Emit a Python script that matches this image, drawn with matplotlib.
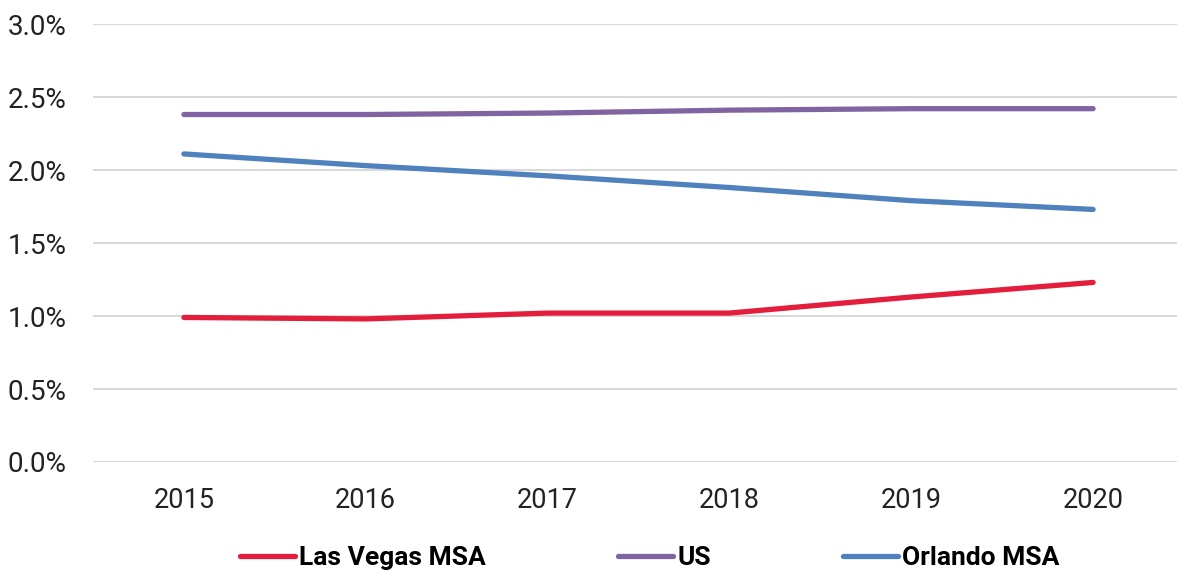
import matplotlib.pyplot as plt
from matplotlib.ticker import FuncFormatter

years = ["2015", "2016", "2017", "2018", "2019", "2020"]
las_vegas = [0.99, 0.98, 1.02, 1.02, 1.13, 1.23]
us = [2.38, 2.38, 2.39, 2.41, 2.42, 2.42]
orlando = [2.11, 2.03, 1.96, 1.88, 1.79, 1.73]

series = [
    ("Las Vegas MSA", las_vegas, "#E31E3C"),
    ("US", us, "#8064A2"),
    ("Orlando MSA", orlando, "#4F81BD"),
]

plt.rcParams["font.family"] = ["Roboto", "DejaVu Sans"]

fig = plt.figure(figsize=(11.77, 5.74), dpi=100)
ax = fig.add_axes([93 / 1177, 112 / 574, 1091 / 1177, 438 / 574])

x = list(range(len(years)))
for name, vals, color in series:
    ax.plot(x, vals, color=color, lw=3.8, solid_capstyle="round", label=name)

ax.set_xlim(-0.5, len(years) - 0.5)
ax.set_ylim(0, 3.0)
ax.set_yticks([0, 0.5, 1.0, 1.5, 2.0, 2.5, 3.0])
ax.yaxis.set_major_formatter(FuncFormatter(lambda v, p: f"{v:.1f}%"))
ax.set_xticks(x)
ax.set_xticklabels(years)
ax.grid(axis="y", color="#D9D9D9", lw=1.5)
ax.set_axisbelow(True)
for s in ax.spines.values():
    s.set_visible(False)
ax.tick_params(axis="y", length=0, pad=19, labelsize=20, colors="#222222")
ax.tick_params(axis="x", length=0, pad=18, labelsize=19.5, colors="#222222")

leg = fig.legend(loc="center", bbox_to_anchor=(0.552, 16 / 574), ncol=3,
                 frameon=False, handlelength=2.1, handletextpad=0.15,
                 columnspacing=5.0, prop={"size": 19, "weight": "bold"})

fig.savefig("out.png", dpi=100)
